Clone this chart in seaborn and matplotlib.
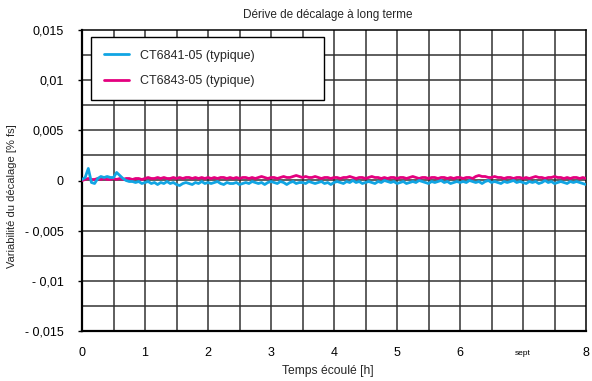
import numpy as np
import pandas as pd
import matplotlib
matplotlib.use("Agg")
import matplotlib.pyplot as plt
import seaborn as sns

# ---- data ----
time_h = [round(i * 0.05, 2) for i in range(161)]

ct6841 = [
    0.0001, 0.0003, 0.0012, -0.0002, -0.0003, 0.0002, 0.0004, 0.0003, 0.0004, 0.0003,
    0.0003, 0.0008, 0.0005, 0.0002, 0.0000, -0.0001, -0.0001, -0.0002, -0.0001, -0.0003, -0.0002,
    -0.0001, -0.0003, -0.0002, -0.0004, -0.0002, -0.0003, -0.0001, -0.0003, -0.0002, -0.0004,
    -0.0005, -0.0003, -0.0002, -0.0003, -0.0004, -0.0002, -0.0003, -0.0001, -0.0003, -0.0002,
    -0.0003, -0.0002, -0.0001, -0.0003, -0.0004, -0.0002, -0.0003, -0.0003, -0.0002, -0.0004,
    -0.0003, -0.0002, -0.0003, -0.0001, -0.0002, -0.0003, -0.0002, -0.0004, -0.0002, -0.0001,
    -0.0002, -0.0003, -0.0001, -0.0002, -0.0004, -0.0002, -0.0001, -0.0003, -0.0002, -0.0002,
    -0.0003, -0.0001, -0.0002, -0.0003, -0.0002, -0.0001, -0.0003, -0.0002, -0.0004, -0.0002,
    -0.0001, -0.0002, -0.0003, -0.0001, -0.0002, 0.0000, -0.0002, -0.0001, -0.0003, -0.0002,
    -0.0001, -0.0002, -0.0003, -0.0001, -0.0002, 0.0000, -0.0001, -0.0002, -0.0001, -0.0003,
    -0.0002, -0.0001, -0.0003, -0.0002, -0.0001, -0.0002, 0.0000, -0.0001, -0.0002, -0.0003,
    -0.0001, -0.0002, -0.0001, 0.0000, -0.0002, -0.0001, -0.0003, -0.0002, -0.0001, -0.0002,
    -0.0001, -0.0002, 0.0000, -0.0001, -0.0002, -0.0001, -0.0003, -0.0001, 0.0000, -0.0002,
    -0.0001, -0.0002, -0.0003, -0.0001, -0.0002, -0.0001, 0.0000, -0.0002, -0.0001, -0.0002,
    -0.0003, -0.0001, -0.0002, -0.0001, -0.0003, -0.0002, 0.0000, -0.0002, -0.0001, -0.0003,
    -0.0002, -0.0001, -0.0002, -0.0003, -0.0001, -0.0002, -0.0001, -0.0002, -0.0003, -0.0004,
]

ct6843 = [
    0.0000, 0.0001, 0.0002, 0.0001, 0.0001, 0.0002, 0.0001, 0.0002, 0.0001, 0.0001,
    0.0002, 0.0001, 0.0002, 0.0001, 0.0002, 0.0002, 0.0001, 0.0002, 0.0002, 0.0001, 0.0002,
    0.0003, 0.0002, 0.0002, 0.0003, 0.0002, 0.0003, 0.0002, 0.0002, 0.0003, 0.0002,
    0.0003, 0.0002, 0.0003, 0.0003, 0.0002, 0.0003, 0.0002, 0.0003, 0.0002, 0.0003,
    0.0002, 0.0003, 0.0002, 0.0003, 0.0003, 0.0002, 0.0003, 0.0002, 0.0003, 0.0002,
    0.0003, 0.0003, 0.0002, 0.0003, 0.0002, 0.0003, 0.0004, 0.0003, 0.0002, 0.0003,
    0.0003, 0.0002, 0.0003, 0.0004, 0.0003, 0.0003, 0.0004, 0.0005, 0.0004, 0.0003,
    0.0004, 0.0003, 0.0003, 0.0004, 0.0003, 0.0002, 0.0003, 0.0003, 0.0002, 0.0003,
    0.0003, 0.0002, 0.0003, 0.0003, 0.0004, 0.0003, 0.0002, 0.0003, 0.0003, 0.0002,
    0.0003, 0.0004, 0.0003, 0.0003, 0.0002, 0.0003, 0.0002, 0.0003, 0.0003, 0.0002,
    0.0003, 0.0003, 0.0002, 0.0003, 0.0004, 0.0003, 0.0002, 0.0003, 0.0003, 0.0002,
    0.0003, 0.0003, 0.0002, 0.0003, 0.0003, 0.0002, 0.0003, 0.0002, 0.0003, 0.0003,
    0.0002, 0.0003, 0.0003, 0.0002, 0.0004, 0.0005, 0.0004, 0.0004, 0.0003, 0.0003,
    0.0004, 0.0003, 0.0003, 0.0002, 0.0003, 0.0003, 0.0002, 0.0003, 0.0003, 0.0002,
    0.0003, 0.0002, 0.0003, 0.0004, 0.0003, 0.0003, 0.0002, 0.0003, 0.0003, 0.0004,
    0.0003, 0.0003, 0.0002, 0.0003, 0.0002, 0.0003, 0.0003, 0.0002, 0.0003, 0.0002,
]

series_names = ["CT6841-05 (typique)", "CT6843-05 (typique)"]
series_colors = ["#11a5e3", "#e4007f"]

x_ticks = [0, 1, 2, 3, 4, 5, 6, 7, 8]
x_tick_labels = ["0", "1", "2", "3", "4", "5", "6", "sept", "8"]
y_ticks = [0.015, 0.01, 0.005, 0, -0.005, -0.01, -0.015]
y_tick_labels = ["0,015", "0,01", "0,005", "0", "- 0,005", "- 0,01", "- 0,015"]

title = "Dérive de décalage à long terme"
x_label = "Temps écoulé [h]"
y_label = "Variabilité du décalage [% fs]"

# ---- plot ----
sns.set_theme(style="white")
plt.rcParams["font.family"] = ["Liberation Sans", "DejaVu Sans"]

df_a = pd.DataFrame({"t": time_h, "v": ct6841})
df_b = pd.DataFrame({"t": time_h, "v": ct6843})

fig = plt.figure(figsize=(5.92, 3.81), dpi=100)
ax = fig.add_axes([82 / 592, 1 - 331 / 381, (586 - 82) / 592, (331 - 30) / 381])

sns.lineplot(data=df_b, x="t", y="v", ax=ax, color=series_colors[1], lw=2.0,
             label=series_names[1], zorder=3)
sns.lineplot(data=df_a, x="t", y="v", ax=ax, color=series_colors[0], lw=2.0,
             label=series_names[0], zorder=4)

ax.set_xlim(0, 8)
ax.set_ylim(-0.015, 0.015)

# grid
for gx in np.arange(0.5, 8.0, 0.5):
    ax.axvline(gx, color="#333333", lw=1.1, zorder=1)
for gy in np.arange(-0.0125, 0.0150, 0.0025):
    ax.axhline(gy, color="#333333", lw=1.1, zorder=1)

ax.set_xticks(x_ticks)
ax.set_xticklabels(x_tick_labels)
for lbl in ax.get_xticklabels():
    lbl.set_va("center")
    if lbl.get_text() == "sept":
        lbl.set_fontsize(6)
    else:
        lbl.set_fontsize(9)
ax.set_yticks(y_ticks)
ax.set_yticklabels(y_tick_labels, fontsize=9)
ax.tick_params(axis="x", length=0, pad=16, colors="black")
ax.tick_params(axis="y", length=3, width=1, direction="out", pad=10, colors="black")
ax.tick_params(axis="y", left=True)

for side in ["left", "bottom", "top", "right"]:
    ax.spines[side].set_visible(True)
    ax.spines[side].set_color("black")
ax.spines["left"].set_linewidth(1.6)
ax.spines["bottom"].set_linewidth(1.6)
ax.spines["top"].set_linewidth(1.1)
ax.spines["right"].set_linewidth(1.1)

fig.text(328 / 592, 1 - 15 / 381, title, fontsize=8.5, ha="center", va="center")
ax.set_xlabel(x_label, fontsize=8.7)
ax.xaxis.label.set_va("center")
ax.xaxis.set_label_coords((328 - 82) / 504, (331 - 371) / 301)
ax.set_ylabel(y_label, fontsize=8)
ax.yaxis.label.set_va("center")
ax.yaxis.set_label_coords((12 - 82) / 504, (331 - 196) / 301)

handles, labels = ax.get_legend_handles_labels()
order = [labels.index(n) for n in series_names]
leg = ax.legend([handles[i] for i in order], [labels[i] for i in order],
                loc="upper left", bbox_to_anchor=(9 / 504, (331 - 97) / 301, 233 / 504, 60 / 301),
                mode="expand", fontsize=9, frameon=True, fancybox=False,
                handlelength=2.0, handletextpad=0.9, labelspacing=1.1, borderpad=1.0,
                borderaxespad=0)
leg.get_frame().set_edgecolor("black")
leg.get_frame().set_linewidth(1.0)
leg.get_frame().set_facecolor("white")
leg.get_frame().set_alpha(1)
leg.set_zorder(5)

fig.savefig("out.png", dpi=100)
